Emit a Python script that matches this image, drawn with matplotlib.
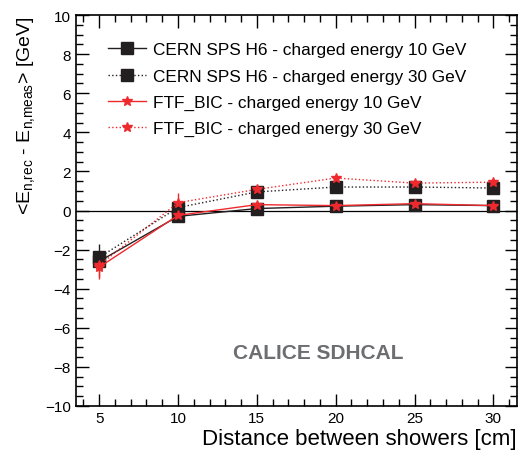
import numpy as np
import matplotlib.pyplot as plt
from matplotlib.ticker import MultipleLocator
from matplotlib.lines import Line2D

# distance between showers [cm]
distance = [5, 10, 15, 20, 25, 30]

# <E_rec - E_meas> [GeV]
data_10 = [-2.6, -0.3, 0.1, 0.22, 0.3, 0.25]
data_10_err = [0.35, 0.15, 0.1, 0.08, 0.08, 0.08]
data_30 = [-2.4, 0.15, 0.95, 1.2, 1.2, 1.15]
data_30_err = [0.7, 0.3, 0.15, 0.12, 0.12, 0.12]
sim_10 = [-2.9, -0.25, 0.3, 0.25, 0.35, 0.25]
sim_10_err = [0.6, 0.15, 0.1, 0.08, 0.08, 0.08]
sim_30 = [-2.8, 0.4, 1.08, 1.66, 1.4, 1.45]
sim_30_err = [0.6, 0.5, 0.2, 0.15, 0.15, 0.15]

labels = ['CERN SPS H6 - charged energy 10 GeV',
          'CERN SPS H6 - charged energy 30 GeV',
          'FTF_BIC - charged energy 10 GeV',
          'FTF_BIC - charged energy 30 GeV']

plt.rcParams['font.family'] = ['Liberation Sans', 'DejaVu Sans']
plt.rcParams['mathtext.fontset'] = 'custom'
plt.rcParams['mathtext.rm'] = 'Liberation Sans'

fig = plt.figure(figsize=(5.2, 4.56), dpi=100)
ax = fig.add_axes([75.5/520, 1-407/456, (517-75.5)/520, (407-16)/456])

ax.axhline(0, color='black', lw=0.9, zorder=1)

styles = [('#231f20', '-', 's', 8), ('#231f20', ':', 's', 8),
          ('#ee2a2e', '-', '*', 7), ('#ee2a2e', ':', '*', 7)]
series = [(data_10, data_10_err), (data_30, data_30_err),
          (sim_10, sim_10_err), (sim_30, sim_30_err)]
handles = []
for (vals, errs), (c, ls, m, ms), lab in zip(series, styles, labels):
    ax.errorbar(distance, vals, yerr=errs, color=c, ls=ls, lw=1.0,
                marker=m, ms=ms, capsize=0)
    handles.append(Line2D([], [], color=c, ls=ls, lw=1.0, marker=m, ms=ms, label=lab))

ax.set_xlim(3.5, 31.5)
ax.set_ylim(-10, 10)
ax.xaxis.set_major_locator(MultipleLocator(5))
ax.xaxis.set_minor_locator(MultipleLocator(1))
ax.yaxis.set_major_locator(MultipleLocator(2))
ax.yaxis.set_minor_locator(MultipleLocator(0.5))
ax.tick_params(which='both', direction='in', top=True, right=True, labelsize=11, width=1.0)
ax.tick_params(which='major', length=9)
ax.tick_params(which='minor', length=5)
for s in ax.spines.values():
    s.set_linewidth(1.2)

ax.set_xlabel('Distance between showers [cm]', fontsize=16, loc='right', labelpad=2)
ax.set_ylabel(r'<E$_{\mathrm{n{,}rec}}$ - E$_{\mathrm{n{,}meas}}$> [GeV]', fontsize=14,
              loc='top', labelpad=5)

ax.legend(handles=handles, loc='upper left', bbox_to_anchor=(0.074, 0.93), frameon=False,
          fontsize=12.4, handlelength=2.2, handletextpad=0.4, labelspacing=0.65,
          borderpad=0, borderaxespad=0)

ax.text(0.357, 0.138, 'CALICE SDHCAL', transform=ax.transAxes, fontsize=15,
        fontweight='bold', color='#6d6e71', ha='left', va='center')

fig.savefig('out.png', dpi=100)
